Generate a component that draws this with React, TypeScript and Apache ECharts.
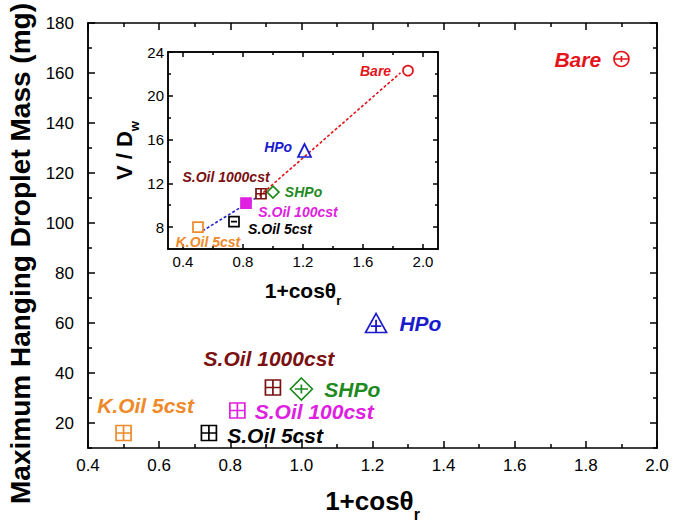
import React, { useEffect, useRef } from "react";
import * as echarts from "echarts";

// ---- data ----
const samples = ["Bare", "HPo", "SHPo", "S.Oil 1000cst", "S.Oil 100cst", "S.Oil 5cst", "K.Oil 5cst"];
const cosTheta = [1.9, 1.21, 1.0, 0.92, 0.82, 0.74, 0.5];
const dropletMass = [165.6, 60, 33.6, 34.2, 25, 16, 16];
const vOverD = [22.3, 15.0, 11.2, 11.05, 10.2, 8.5, 8.0];
const fitBlueX = [0.53, 0.89];
const fitBlueY = [7.65, 10.7];
const fitRedX = [0.91, 1.85];
const fitRedY = [10.85, 22.1];

const mainYLabels = [20, 40, 60, 80, 100, 120, 140, 160, 180];
const mainYMinor = [10, 30, 50, 70, 90, 110, 130, 150, 170];
const insetXLabels = [0.4, 0.8, 1.2, 1.6, 2.0];
const insetXMinor = [0.6, 1.0, 1.4, 1.8];
const insetYLabels = [8, 12, 16, 20, 24];
const insetYMinor = [10, 14, 18, 22];

// ---- styles ----
const FONT = '"Liberation Sans", Arial, sans-serif';
const colors = ["#e4141b", "#1a1acd", "#1f8a1f", "#7a1010", "#e020e0", "#000000", "#ee8a2a"];
const SQ = "path://M0,0H20V20H0Z M10,0V20 M0,10H20";
const CI = "path://M10,0A10,10,0,1,1,10,20A10,10,0,1,1,10,0Z M0,10H20 M10,6V14";
const TR = "path://M10,0L20,18H0Z M10,6V18 M5,12H15";
const DI = "path://M10,0L20,10L10,20L0,10Z M4,10H16 M10,6V14";
const mainSymbols = [CI, TR, DI, SQ, SQ, SQ, SQ];
const mainSizes = [15, [21, 19], 22, 15, 15, 15, 15];
const mainLabelPos: any[] = [
  { position: "left", distance: 12 },
  { position: "right", distance: 12 },
  { position: "right", distance: 11 },
  { position: "inside", offset: [-4, -29] },
  { position: "right", distance: 9, offset: [0, 1] },
  { position: "right", distance: 10, offset: [0, 2] },
  { position: "inside", offset: [22, -28] },
];
const insetSymbols = ["circle", "triangle", "diamond", SQ, "rect", "path://M0,0H20V20H0Z M4,10H16", "rect"];
const insetSizes = [10, 13, 12, 10, 10, 10, 10];
const insetFilled = [false, false, false, false, true, false, false];
const insetLabelPos: any[] = [
  { position: "left", distance: 11 },
  { position: "left", distance: 5, offset: [0, -4] },
  { position: "right", distance: 5 },
  { position: "inside", offset: [-35, -17] },
  { position: "inside", offset: [52, 9] },
  { position: "inside", offset: [46, 7] },
  { position: "inside", offset: [10, 15] },
];

const black = { color: "#000", width: 1.5 };

function ax(grid: number, pos: string, extra: any) {
  return {
    type: "value",
    gridIndex: grid,
    position: pos,
    axisLine: { show: true, onZero: false, lineStyle: black },
    splitLine: { show: false },
    minorSplitLine: { show: false },
    ...extra,
  };
}

export default function App() {
  const ref = useRef<HTMLDivElement>(null);
  useEffect(() => {
    if (!ref.current) return;
    const chart = echarts.init(ref.current, null, { renderer: "svg" });

    const mainLabelStyle = { fontSize: 17, color: "#000", fontFamily: FONT };
    const insetLabelStyle = { fontSize: 15, color: "#000", fontFamily: FONT };

    const xAxis: any[] = [
      ax(0, "bottom", {
        min: 0.4, max: 2.0, interval: 0.2,
        axisTick: { show: true, inside: true, length: 7, lineStyle: black },
        minorTick: { show: true, splitNumber: 2, length: 4, lineStyle: black },
        axisLabel: { ...mainLabelStyle, margin: 9, formatter: (v: number) => v.toFixed(1) },
        name: "1+cosθ{sub|r}",
        nameLocation: "middle",
        nameGap: 32,
        nameTextStyle: {
          fontSize: 26, fontWeight: "bold", color: "#000", fontFamily: FONT,
          rich: { sub: { fontSize: 16, fontWeight: "bold", fontFamily: FONT, color: "#000", padding: [26, 0, 0, 0] } },
        },
      }),
      ax(0, "top", {
        min: 0.4, max: 2.0, interval: 0.2,
        axisTick: { show: true, inside: true, length: 7, lineStyle: black },
        minorTick: { show: true, splitNumber: 2, length: 4, lineStyle: black },
        axisLabel: { show: false },
      }),
      ax(1, "bottom", {
        min: 0.3, max: 2.1,
        axisTick: { show: true, inside: true, length: 5, lineStyle: black, customValues: insetXLabels },
        axisLabel: { ...insetLabelStyle, margin: 5, customValues: insetXLabels, formatter: (v: number) => v.toFixed(1) },
        name: "1+cosθ{sub|r}",
        nameLocation: "middle",
        nameGap: 25,
        nameTextStyle: {
          fontSize: 21, fontWeight: "bold", color: "#000", fontFamily: FONT,
          rich: { sub: { fontSize: 13, fontWeight: "bold", fontFamily: FONT, color: "#000", padding: [20, 0, 0, 0] } },
        },
      }),
      ax(1, "bottom", {
        min: 0.3, max: 2.1,
        axisTick: { show: true, inside: true, length: 3, lineStyle: black, customValues: insetXMinor },
        axisLabel: { show: false },
      }),
      ax(1, "top", {
        min: 0.3, max: 2.1,
        axisTick: { show: true, inside: true, length: 5, lineStyle: black, customValues: insetXLabels },
        axisLabel: { show: false },
      }),
      ax(1, "top", {
        min: 0.3, max: 2.1,
        axisTick: { show: true, inside: true, length: 3, lineStyle: black, customValues: insetXMinor },
        axisLabel: { show: false },
      }),
    ];

    const yAxis: any[] = [
      ax(0, "left", {
        min: 10, max: 180,
        axisTick: { show: true, inside: true, length: 7, lineStyle: black, customValues: mainYLabels },
        axisLabel: { ...mainLabelStyle, margin: 14, customValues: mainYLabels },
        name: "Maximum Hanging Droplet Mass (mg)",
        nameLocation: "middle",
        nameRotate: 90,
        nameGap: 53,
        nameTextStyle: { fontSize: 28, fontWeight: "bold", color: "#000", fontFamily: FONT, padding: [0, 36, 0, 0] },
      }),
      ax(0, "left", {
        min: 10, max: 180,
        axisTick: { show: true, inside: true, length: 4, lineStyle: black, customValues: mainYMinor },
        axisLabel: { show: false },
      }),
      ax(0, "right", {
        min: 10, max: 180,
        axisTick: { show: true, inside: true, length: 7, lineStyle: black, customValues: mainYLabels },
        axisLabel: { show: false },
      }),
      ax(0, "right", {
        min: 10, max: 180,
        axisTick: { show: true, inside: true, length: 4, lineStyle: black, customValues: mainYMinor },
        axisLabel: { show: false },
      }),
      ax(1, "left", {
        min: 6, max: 24,
        axisTick: { show: true, inside: true, length: 5, lineStyle: black, customValues: insetYLabels },
        axisLabel: { ...insetLabelStyle, margin: 4, customValues: insetYLabels },
        name: "V / D{sub|w}",
        nameLocation: "middle",
        nameRotate: 90,
        nameGap: 27,
        nameTextStyle: {
          fontSize: 22, fontWeight: "bold", color: "#000", fontFamily: FONT,
          rich: { sub: { fontSize: 13, fontWeight: "bold", fontFamily: FONT, color: "#000", padding: [20, 0, 0, 0] } },
        },
      }),
      ax(1, "left", {
        min: 6, max: 24,
        axisTick: { show: true, inside: true, length: 3, lineStyle: black, customValues: insetYMinor },
        axisLabel: { show: false },
      }),
      ax(1, "right", {
        min: 6, max: 24,
        axisTick: { show: true, inside: true, length: 5, lineStyle: black, customValues: insetYLabels },
        axisLabel: { show: false },
      }),
      ax(1, "right", {
        min: 6, max: 24,
        axisTick: { show: true, inside: true, length: 3, lineStyle: black, customValues: insetYMinor },
        axisLabel: { show: false },
      }),
    ];

    const series: any[] = [];
    samples.forEach((name, i) => {
      series.push({
        type: "scatter",
        name,
        xAxisIndex: 0,
        yAxisIndex: 0,
        data: [[cosTheta[i], dropletMass[i]]],
        symbol: mainSymbols[i],
        symbolSize: mainSizes[i],
        itemStyle: { color: "rgba(255,255,255,0)", borderColor: colors[i], borderWidth: 1.7, opacity: 1 },
        label: {
          show: true,
          formatter: name,
          color: colors[i],
          opacity: 1,
          fontSize: 21,
          lineHeight: 19,
          fontWeight: "bold",
          fontStyle: "italic",
          fontFamily: FONT,
          ...mainLabelPos[i],
        },
        emphasis: { disabled: true },
        silent: true,
        z: 3,
      });
    });
    series.push({
      type: "line", xAxisIndex: 2, yAxisIndex: 4, symbol: "none", silent: true,
      data: fitBlueX.map((x, k) => [x, fitBlueY[k]]),
      lineStyle: { color: "#2424d0", width: 1.6, type: [3, 2] },
    });
    series.push({
      type: "line", xAxisIndex: 2, yAxisIndex: 4, symbol: "none", silent: true,
      data: fitRedX.map((x, k) => [x, fitRedY[k]]),
      lineStyle: { color: "#e4141b", width: 1.6, type: [3, 2] },
    });
    samples.forEach((name, i) => {
      series.push({
        type: "scatter",
        name: name + " inset",
        xAxisIndex: 2,
        yAxisIndex: 4,
        data: [[cosTheta[i], vOverD[i]]],
        symbol: insetSymbols[i],
        symbolSize: insetSizes[i],
        itemStyle: {
          color: insetFilled[i] ? colors[i] : "rgba(255,255,255,0)",
          borderColor: colors[i],
          borderWidth: 1.7,
          opacity: 1,
        },
        label: {
          show: true,
          formatter: name,
          color: colors[i],
          opacity: 1,
          fontSize: 14,
          lineHeight: 14,
          fontWeight: "bold",
          fontStyle: "italic",
          fontFamily: FONT,
          ...insetLabelPos[i],
        },
        emphasis: { disabled: true },
        silent: true,
        z: 3,
      });
    });

    chart.setOption({
      animation: false,
      backgroundColor: "#fff",
      textStyle: { fontFamily: FONT },
      grid: [
        { left: 88, right: 18, top: 23, bottom: 79, outerBoundsMode: "none" },
        { left: 168, right: 237, top: 52, bottom: 278, outerBoundsMode: "none" },
      ],
      xAxis,
      yAxis,
      series,
    });
    return () => chart.dispose();
  }, []);
  return <div ref={ref} style={{ width: 675, height: 527, position: "absolute", left: 0, top: 0 }} />;
}
